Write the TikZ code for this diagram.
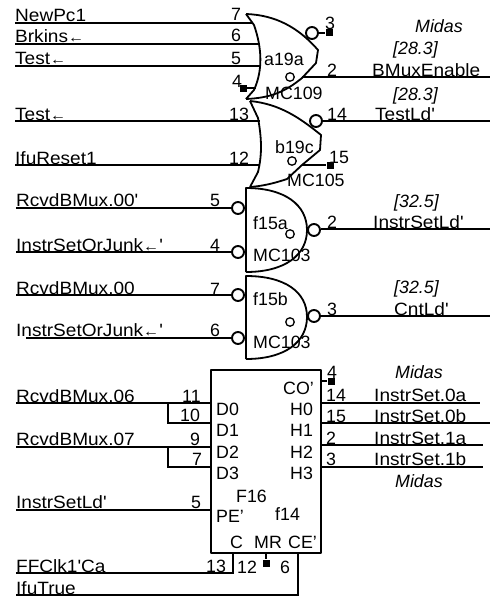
\documentclass[tikz,border=0pt]{standalone}
\usepackage{fontspec}
\setmainfont{Liberation Sans}
\newfontfamily\sigfont[FakeStretch=1.07]{Liberation Sans}
\usetikzlibrary{calc, positioning}
\newcommand{\la}{{\fontsize{15}{15}\selectfont←}}
\tikzset{
    wire/.style={line width=2pt},
    body/.style={line width=1.8pt, line join=round},
    txt/.style={anchor=base west, inner sep=0pt, font=\fontsize{17.8}{19}\selectfont},
    sig/.style={txt, font=\fontsize{17.8}{19}\selectfont\sigfont},
    ref/.style={txt, font=\fontsize{17.8}{19}\selectfont\itshape},
    bubble/.style={draw, circle, line width=1.9pt, minimum size=12pt, inner sep=0pt},
    stub/.style={fill, rectangle, minimum size=7pt, inner sep=0pt},
    dot/.style={draw, circle, line width=1.3pt, minimum size=8.5pt, inner sep=0pt}
}
\begin{document}
\begin{tikzpicture}[x=1pt,y=-1pt]
        \useasboundingbox (0,0) rectangle (490,602);
        % a19a
        \draw[body] (246,14) .. controls (275,15) and (298,27) .. (318,50) -- (316,63) -- (302,78) .. controls (285,92) and (270,98) .. (246,99);
        \draw[body] (246,14) -- (254,25) .. controls (262,48) and (263,70) .. (254,90) -- (246,99);
        \node[bubble] (a3b) at (312,33) {};
        \node[stub] (a3s) at (329,33) {};
        \node[stub] (a4s) at (243,88) {};
        \coordinate (a7) at (253,23);
        \coordinate (a6) at (259,44);
        \coordinate (a5) at (260,66);
        \coordinate (a4) at (256,88);
        \coordinate (a2) at (302,77);
        \coordinate (a2e) at (490,77);
        \node[sig] (nnewpc) at (15,22) {NewPc1};
        \node[sig] (nbrk) at (15,43) {Brkins\la};
        \node[sig] (ntest) at (15,65) {Test\la};
        \node[txt] (p7) at (231,21) {7};
        \node[txt] (p6) at (231,42) {6};
        \node[txt] (p5) at (231,64) {5};
        \node[txt] (p4) at (232,87) {4};
        \node[txt] (p3) at (325,30) {3};
        \node[txt] (p2) at (327,76) {2};
        \node[txt] (na) at (264,66) {a19a};
        \node[dot] (ao) at (290,77) {};
        \node[txt] (nam) at (265,99) {MC109};
        \node[ref] (r1) at (415,33) {Midas};
        \node[ref] (r2) at (393,55) {[28.3]};
        \node[sig] (nbm) at (372,76) {BMuxEnable};
        \node[ref] (r3) at (393,100) {[28.3]};
        \draw[wire] (nnewpc.base west |- a7) -- (a7);
        \draw[wire] (nbrk.base west |- a6) -- (a6);
        \draw[wire] (ntest.base west |- a5) -- (a5);
        \draw[wire] (a4s) -- (a4);
        \draw[wire] (a3b) -- (a3s);
        \draw[wire] (a2) -- (a2e);
        % b19c
        \draw[body] (250,101) .. controls (280,104) and (300,118) .. (321,135) -- (320,150) -- (302,165) -- (287,179) .. controls (272,184) and (262,186) .. (250,187);
        \draw[body] (250,101) -- (258,118) .. controls (262,140) and (262,155) .. (258,172) -- (250,187);
        \node[bubble] (b14b) at (316,121) {};
        \node[stub] (b15s) at (330,165) {};
        \coordinate (b13) at (260,121);
        \coordinate (b12) at (260,165);
        \coordinate (b15) at (302,165);
        \coordinate (b14e) at (490,121);
        \node[sig] (ntest2) at (15,120) {Test\la};
        \node[sig] (nifu) at (15,164) {IfuReset1};
        \node[txt] (p13) at (229,120) {13};
        \node[txt] (p12) at (229,164) {12};
        \node[txt] (p14) at (327,120) {14};
        \node[txt] (p15) at (329,163) {15};
        \node[txt] (nb) at (275,153) {b19c};
        \node[dot] (bo) at (292,161) {};
        \node[txt] (nbm2) at (287,186) {MC105};
        \node[sig] (ntl) at (375,120) {TestLd'};
        \draw[wire] (ntest2.base west |- b13) -- (b13);
        \draw[wire] (nifu.base west |- b12) -- (b12);
        \draw[wire] (b15) -- (b15s);
        \draw[wire] (b14b) -- (b14e);
        % f15a
        \draw[body] (246,272) -- (246,188) .. controls (285,188) and (307,205) .. (307,230) .. controls (307,255) and (285,272) .. (246,272);
        \node[bubble] (f5b) at (238,208) {};
        \node[bubble] (f4b) at (238,252) {};
        \node[bubble] (f2b) at (314,230) {};
        \coordinate (f2e) at (490,229);
        \node[sig] (nr0) at (16,206) {RcvdBMux.00'};
        \node[sig] (nj0) at (16,251) {InstrSetOrJunk\la'};
        \node[txt] (p5a) at (210,206) {5};
        \node[txt] (p4a) at (210,251) {4};
        \node[txt] (p2a) at (327,228) {2};
        \node[txt] (nf) at (253,229) {f15a};
        \node[dot] (fo) at (290,234) {};
        \node[txt] (nfm) at (253,261) {MC103};
        \node[ref] (r4) at (394,207) {[32.5]};
        \node[sig] (nisl) at (373,228) {InstrSetLd'};
        \draw[wire] (nr0.base west |- f5b) -- (f5b);
        \draw[wire] (nj0.base west |- f4b) -- (f4b);
        \draw[wire] (f2b.east |- f2e) -- (f2e);
        % f15b
        \draw[body] (246,359) -- (246,276) .. controls (285,276) and (307,292) .. (307,317) .. controls (307,342) and (285,359) .. (246,359);
        \node[bubble] (g7b) at (238,295) {};
        \node[bubble] (g6b) at (238,338) {};
        \node[bubble] (g3b) at (314,316) {};
        \coordinate (g3e) at (490,316);
        \coordinate (g6s) at (26,338);
        \node[sig] (nr1) at (16,294) {RcvdBMux.00};
        \node[sig] (nj1) at (16,336) {InstrSetOrJunk\la'};
        \node[txt] (p7a) at (210,295) {7};
        \node[txt] (p6a) at (210,336) {6};
        \node[txt] (p3a) at (327,315) {3};
        \node[txt] (ng) at (253,305) {f15b};
        \node[dot] (go) at (290,322) {};
        \node[txt] (ngm) at (253,348) {MC103};
        \node[ref] (r5) at (394,293) {[32.5]};
        \node[sig] (ncl) at (394,315) {CntLd'};
        \draw[wire] (nr1.base west |- g7b) -- (g7b);
        \draw[wire] (g6s) -- (g6b);
        \draw[wire] (g3b) -- (g3e);
        % f14
        \draw[body] (211,370) rectangle (321,553);
        \coordinate (d0) at (211,403);
        \coordinate (d1) at (211,423);
        \coordinate (d2) at (211,447);
        \coordinate (d3) at (211,467);
        \coordinate (pe) at (211,510);
        \coordinate (j1) at (168,403);
        \coordinate (j2) at (168,447);
        \coordinate (h0) at (321,403);
        \coordinate (h1) at (321,423);
        \coordinate (h2) at (321,445);
        \coordinate (h3) at (321,467);
        \coordinate (h0e) at (480,403);
        \coordinate (h1e) at (490,423);
        \coordinate (h2e) at (483,445);
        \coordinate (h3e) at (483,467);
        \coordinate (co) at (321,381);
        \coordinate (cp) at (233,553);
        \coordinate (ce) at (298,553);
        \coordinate (mr) at (266,553);
        \node[stub] (cos) at (331,381) {};
        \node[stub] (mrs) at (266,563) {};
        \node[sig] (nr6) at (16,402) {RcvdBMux.06};
        \node[sig] (nr7) at (16,445) {RcvdBMux.07};
        \node[sig] (nld) at (16,508) {InstrSetLd'};
        \node[sig] (nclk) at (16,572) {FFClk1'Ca};
        \node[sig] (ntr) at (16,594) {IfuTrue};
        \node[txt] (p11) at (182,402) {11};
        \node[txt] (p10) at (180,421) {10};
        \node[txt] (p9) at (190,445) {9};
        \node[txt] (p7b) at (192,465) {7};
        \node[txt] (p5b) at (191,508) {5};
        \node[txt] (p13b) at (206,572) {13};
        \node[txt] (p12b) at (237,573) {12};
        \node[txt] (p6b) at (280,573) {6};
        \node[txt] (p4b) at (327,378) {4};
        \node[txt] (p14b) at (326,401) {14};
        \node[txt] (p15b) at (326,422) {15};
        \node[txt] (p2b) at (326,444) {2};
        \node[txt] (p3b) at (326,465) {3};
        \node[txt] (lco) at (283,394) {CO'};
        \node[txt] (ld0) at (216,415) {D0};
        \node[txt] (ld1) at (216,436) {D1};
        \node[txt] (ld2) at (216,458) {D2};
        \node[txt] (ld3) at (216,479) {D3};
        \node[txt] (lh0) at (290,415) {H0};
        \node[txt] (lh1) at (290,436) {H1};
        \node[txt] (lh2) at (290,458) {H2};
        \node[txt] (lh3) at (290,479) {H3};
        \node[txt] (lf16) at (236,502) {F16};
        \node[txt] (lf14) at (275,520) {f14};
        \node[txt] (lpe) at (216,522) {PE'};
        \node[txt] (lc) at (230,548) {C};
        \node[txt] (lmr) at (254,548) {MR};
        \node[txt] (lce) at (288,548) {CE'};
        \node[ref] (r6) at (395,378) {Midas};
        \node[ref] (r7) at (395,487) {Midas};
        \node[sig] (s0a) at (374,401) {InstrSet.0a};
        \node[sig] (s0b) at (374,422) {InstrSet.0b};
        \node[sig] (s1a) at (374,444) {InstrSet.1a};
        \node[sig] (s1b) at (374,465) {InstrSet.1b};
        \draw[wire] (nr6.base west |- d0) -- (d0);
        \draw[wire] (j1) -- (j1 |- d1) -- (d1);
        \draw[wire] (nr7.base west |- d2) -- (d2);
        \draw[wire] (j2) -- (j2 |- d3) -- (d3);
        \draw[wire] (nld.base west |- pe) -- (pe);
        \draw[wire] (h0) -- (h0e);
        \draw[wire] (h1) -- (h1e);
        \draw[wire] (h2) -- (h2e);
        \draw[wire] (h3) -- (h3e);
        \draw[wire] (co) -- (cos);
        \draw[wire] (mr) -- (mrs);
        \draw[wire] (cp) -- ($(cp)+(0,20)$) -- ($(nclk.base west)+(0,1)$);
        \draw[wire] (ce) -- ($(ce)+(0,42)$) -- ($(ntr.base west)+(0,1)$);
    \end{tikzpicture}
\end{document}
